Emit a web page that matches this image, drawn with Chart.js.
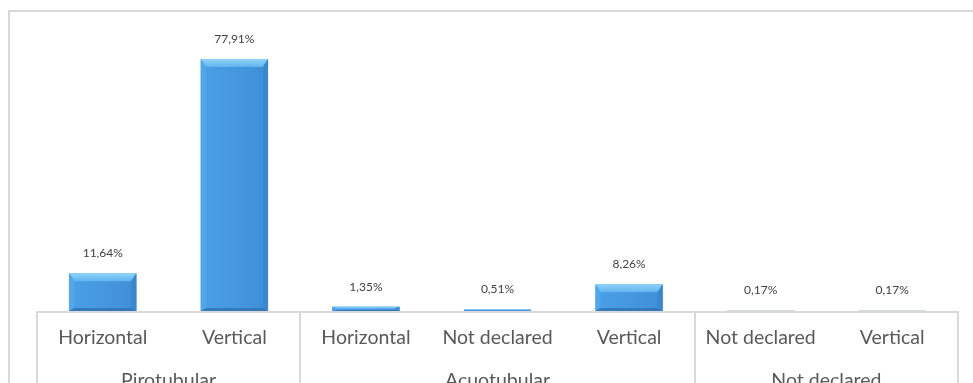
<!DOCTYPE html>
<html>
<head>
<meta charset="utf-8">
<script src="https://cdn.jsdelivr.net/npm/chart.js@4/dist/chart.umd.min.js"></script>
<style>
  html, body { margin: 0; padding: 0; background: #ffffff; }
  #wrap { width: 973px; height: 383px; }
</style>
</head>
<body>
<div id="wrap"><canvas id="c" width="973" height="383"></canvas></div>
<script>
// ---- data ----
const groups = ['Pirotubular', 'Acuotubular', 'Not declared'];
const groupSizes = [2, 3, 2];
const categories = ['Horizontal', 'Vertical', 'Horizontal', 'Not declared', 'Vertical', 'Not declared', 'Vertical'];
const values = [11.64, 77.91, 1.35, 0.51, 8.26, 0.17, 0.17];
const yMin = 0;
const yMax = 90;

const FONT = 'Lato, "Open Sans", sans-serif';
const GRID = '#d9d9d9';

function fmt(v) { return v.toFixed(2).replace('.', ',') + '%'; }

const frame = {
  id: 'frame',
  beforeDraw(chart) {
    const ctx = chart.ctx;
    ctx.save();
    ctx.fillStyle = '#ffffff';
    ctx.fillRect(0, 0, chart.width, chart.height);
    ctx.strokeStyle = GRID;
    ctx.lineWidth = 2;
    ctx.strokeRect(9, 11, chart.width + 20, chart.height + 20);
    ctx.restore();
  }
};

function poly(ctx, pts, fill) {
  ctx.fillStyle = fill;
  ctx.beginPath();
  ctx.moveTo(pts[0][0], pts[0][1]);
  for (let i = 1; i < pts.length; i++) ctx.lineTo(pts[i][0], pts[i][1]);
  ctx.closePath();
  ctx.fill();
}

const bevelBars = {
  id: 'bevelBars',
  afterDatasetsDraw(chart) {
    const ctx = chart.ctx;
    const meta = chart.getDatasetMeta(0);
    ctx.save();
    meta.data.forEach((bar) => {
      const p = bar.getProps(['x', 'y', 'base', 'width'], true);
      const l = p.x - p.width / 2, r = p.x + p.width / 2;
      const t = Math.min(p.y, p.base), b = Math.max(p.y, p.base);
      const h = b - t;
      if (h < 0.3) return;
      if (h >= 4) {
        ctx.fillStyle = 'rgba(0,0,0,0.08)';
        ctx.fillRect(l - 1, t + 1, r - l + 2, h);
        const g = ctx.createLinearGradient(l, 0, r, 0);
        g.addColorStop(0, '#4a9fe5');
        g.addColorStop(0.5, '#4598df');
        g.addColorStop(1, '#3d8ed6');
        ctx.fillStyle = g;
        ctx.fillRect(l, t, r - l, h);
        const bt = Math.min(8, h / 2);
        const bs = Math.min(5, (r - l) / 4);
        const bb = Math.min(3, h / 4);
        const gt = ctx.createLinearGradient(0, t, 0, t + bt);
        gt.addColorStop(0, '#8fd3fb');
        gt.addColorStop(1, '#5fb3ef');
        poly(ctx, [[l, t], [r, t], [r - bs, t + bt], [l + bs, t + bt]], gt);
        poly(ctx, [[l, t], [l + bs, t + bt], [l + bs, b - bb], [l, b]], '#52a7e8');
        poly(ctx, [[r, t], [r - bs, t + bt], [r - bs, b - bb], [r, b]], '#3a87cd');
        poly(ctx, [[l, b], [l + bs, b - bb], [r - bs, b - bb], [r, b]], '#3479bb');
      } else {
        ctx.fillStyle = h > 1 ? '#4a9de2' : '#a9bccd';
        ctx.fillRect(l, t, r - l, Math.max(h, 1));
      }
    });
    ctx.fillStyle = '#404040';
    ctx.font = '12px ' + FONT;
    ctx.textAlign = 'center';
    ctx.textBaseline = 'middle';
    meta.data.forEach((bar, i) => {
      const p = bar.getProps(['x', 'y'], true);
      ctx.fillText(fmt(values[i]), p.x, p.y - 20);
    });
    ctx.restore();
  }
};

const multiAxis = {
  id: 'multiAxis',
  afterDraw(chart) {
    const ctx = chart.ctx;
    const xs = chart.scales.x;
    const area = chart.chartArea;
    const half = (xs.getPixelForValue(1) - xs.getPixelForValue(0)) / 2;
    const y0 = area.bottom;
    ctx.save();
    ctx.strokeStyle = GRID;
    ctx.lineWidth = 2;
    ctx.beginPath();
    ctx.moveTo(area.left, y0 + 1);
    ctx.lineTo(area.right, y0 + 1);
    ctx.stroke();
    let idx = 0;
    const bounds = [idx];
    groupSizes.forEach((n) => { idx += n; bounds.push(idx); });
    bounds.forEach((bi) => {
      const x = Math.round(xs.getPixelForValue(bi) - half);
      ctx.beginPath();
      ctx.moveTo(x, y0);
      ctx.lineTo(x, chart.height + 5);
      ctx.stroke();
    });
    ctx.fillStyle = '#595959';
    ctx.font = '19.5px ' + FONT;
    ctx.textAlign = 'center';
    ctx.textBaseline = 'middle';
    categories.forEach((c, i) => {
      ctx.fillText(c, xs.getPixelForValue(i), y0 + 27);
    });
    groups.forEach((gname, gi) => {
      const a = xs.getPixelForValue(bounds[gi]) - half;
      const b2 = xs.getPixelForValue(bounds[gi + 1]) - half;
      ctx.fillText(gname, (a + b2) / 2, y0 + 70);
    });
    ctx.restore();
  }
};

new Chart(document.getElementById('c'), {
  type: 'bar',
  data: {
    labels: categories,
    datasets: [{
      data: values,
      backgroundColor: 'rgba(0,0,0,0)',
      borderWidth: 0,
      categoryPercentage: 0.51,
      barPercentage: 1.0
    }]
  },
  options: {
    responsive: false,
    animation: false,
    devicePixelRatio: 1,
    layout: { padding: { left: 37, right: 15, top: 20, bottom: 72 } },
    plugins: { legend: { display: false }, tooltip: { enabled: false } },
    scales: {
      x: { display: false, offset: true },
      y: { display: false, min: yMin, max: yMax }
    }
  },
  plugins: [frame, bevelBars, multiAxis]
});
</script>
</body>
</html>
